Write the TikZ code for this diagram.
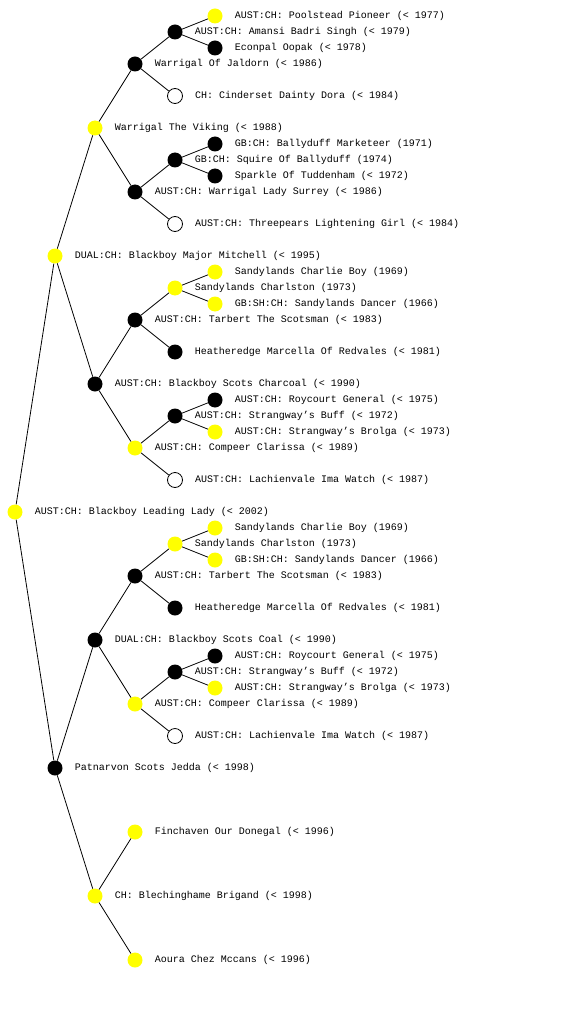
\documentclass[tikz,border=0pt]{standalone}
\usepackage{fontspec}
\setmonofont{Liberation Mono}
\usetikzlibrary{positioning}
\definecolor{champyellow}{RGB}{255,255,0}

\tikzset{
  dog/.style={circle, minimum size=15pt, inner sep=0pt},
  champ/.style={dog, fill=champyellow},
  plain/.style={dog, fill=black},
  unknown/.style={dog, draw=black, line width=0.8pt, fill=white},
  dogname/.style={font=\ttfamily\fontsize{10}{12}\selectfont, inner sep=0pt, right=12pt of #1},
  link/.style={line width=0.8pt}
}

\begin{document}
\begin{tikzpicture}[x=1pt, y=-1pt]
  \useasboundingbox (0,0) rectangle (560,1024);

  % generation 0 and 1
  \node[champ] (lady) at (15,512) {};
  \node[champ] (mitchell) at (55,256) {};
  \node[plain] (jedda) at (55,768) {};

  % generation 2
  \node[champ] (viking) at (95,128) {};
  \node[plain] (charcoal) at (95,384) {};
  \node[plain] (coal) at (95,640) {};
  \node[champ] (brigand) at (95,896) {};

  % generation 3
  \node[plain] (jaldorn) at (135,64) {};
  \node[plain] (surrey) at (135,192) {};
  \node[plain] (tarbertA) at (135,320) {};
  \node[champ] (compeerA) at (135,448) {};
  \node[plain] (tarbertB) at (135,576) {};
  \node[champ] (compeerB) at (135,704) {};
  \node[champ] (finchaven) at (135,832) {};
  \node[champ] (aoura) at (135,960) {};

  % generation 4
  \node[plain] (amansi) at (175,32) {};
  \node[unknown] (cinderset) at (175,96) {};
  \node[plain] (squire) at (175,160) {};
  \node[unknown] (threepears) at (175,224) {};
  \node[champ] (charlstonA) at (175,288) {};
  \node[plain] (heatheredgeA) at (175,352) {};
  \node[plain] (buffA) at (175,416) {};
  \node[unknown] (lachienvaleA) at (175,480) {};
  \node[champ] (charlstonB) at (175,544) {};
  \node[plain] (heatheredgeB) at (175,608) {};
  \node[plain] (buffB) at (175,672) {};
  \node[unknown] (lachienvaleB) at (175,736) {};

  % generation 5
  \node[champ] (poolstead) at (215,16) {};
  \node[plain] (econpal) at (215,48) {};
  \node[plain] (marketeer) at (215,144) {};
  \node[plain] (sparkle) at (215,176) {};
  \node[champ] (charlieA) at (215,272) {};
  \node[champ] (dancerA) at (215,304) {};
  \node[plain] (roycourtA) at (215,400) {};
  \node[champ] (brolgaA) at (215,432) {};
  \node[champ] (charlieB) at (215,528) {};
  \node[champ] (dancerB) at (215,560) {};
  \node[plain] (roycourtB) at (215,656) {};
  \node[champ] (brolgaB) at (215,688) {};

  % connectors
  \draw[link] (lady) -- (mitchell);
  \draw[link] (lady) -- (jedda);
  \draw[link] (mitchell) -- (viking);
  \draw[link] (mitchell) -- (charcoal);
  \draw[link] (jedda) -- (coal);
  \draw[link] (jedda) -- (brigand);
  \draw[link] (viking) -- (jaldorn);
  \draw[link] (viking) -- (surrey);
  \draw[link] (charcoal) -- (tarbertA);
  \draw[link] (charcoal) -- (compeerA);
  \draw[link] (coal) -- (tarbertB);
  \draw[link] (coal) -- (compeerB);
  \draw[link] (brigand) -- (finchaven);
  \draw[link] (brigand) -- (aoura);
  \draw[link] (jaldorn) -- (amansi);
  \draw[link] (jaldorn) -- (cinderset);
  \draw[link] (surrey) -- (squire);
  \draw[link] (surrey) -- (threepears);
  \draw[link] (tarbertA) -- (charlstonA);
  \draw[link] (tarbertA) -- (heatheredgeA);
  \draw[link] (compeerA) -- (buffA);
  \draw[link] (compeerA) -- (lachienvaleA);
  \draw[link] (tarbertB) -- (charlstonB);
  \draw[link] (tarbertB) -- (heatheredgeB);
  \draw[link] (compeerB) -- (buffB);
  \draw[link] (compeerB) -- (lachienvaleB);
  \draw[link] (amansi) -- (poolstead);
  \draw[link] (amansi) -- (econpal);
  \draw[link] (squire) -- (marketeer);
  \draw[link] (squire) -- (sparkle);
  \draw[link] (charlstonA) -- (charlieA);
  \draw[link] (charlstonA) -- (dancerA);
  \draw[link] (buffA) -- (roycourtA);
  \draw[link] (buffA) -- (brolgaA);
  \draw[link] (charlstonB) -- (charlieB);
  \draw[link] (charlstonB) -- (dancerB);
  \draw[link] (buffB) -- (roycourtB);
  \draw[link] (buffB) -- (brolgaB);

  % names
  \node[dogname=lady] (lady-t) {AUST:CH: Blackboy Leading Lady (< 2002)};
  \node[dogname=mitchell] (mitchell-t) {DUAL:CH: Blackboy Major Mitchell (< 1995)};
  \node[dogname=jedda] (jedda-t) {Patnarvon Scots Jedda (< 1998)};
  \node[dogname=viking] (viking-t) {Warrigal The Viking (< 1988)};
  \node[dogname=charcoal] (charcoal-t) {AUST:CH: Blackboy Scots Charcoal (< 1990)};
  \node[dogname=coal] (coal-t) {DUAL:CH: Blackboy Scots Coal (< 1990)};
  \node[dogname=brigand] (brigand-t) {CH: Blechinghame Brigand (< 1998)};
  \node[dogname=jaldorn] (jaldorn-t) {Warrigal Of Jaldorn (< 1986)};
  \node[dogname=surrey] (surrey-t) {AUST:CH: Warrigal Lady Surrey (< 1986)};
  \node[dogname=tarbertA] (tarbertA-t) {AUST:CH: Tarbert The Scotsman (< 1983)};
  \node[dogname=compeerA] (compeerA-t) {AUST:CH: Compeer Clarissa (< 1989)};
  \node[dogname=tarbertB] (tarbertB-t) {AUST:CH: Tarbert The Scotsman (< 1983)};
  \node[dogname=compeerB] (compeerB-t) {AUST:CH: Compeer Clarissa (< 1989)};
  \node[dogname=finchaven] (finchaven-t) {Finchaven Our Donegal (< 1996)};
  \node[dogname=aoura] (aoura-t) {Aoura Chez Mccans (< 1996)};
  \node[dogname=amansi] (amansi-t) {AUST:CH: Amansi Badri Singh (< 1979)};
  \node[dogname=cinderset] (cinderset-t) {CH: Cinderset Dainty Dora (< 1984)};
  \node[dogname=squire] (squire-t) {GB:CH: Squire Of Ballyduff (1974)};
  \node[dogname=threepears] (threepears-t) {AUST:CH: Threepears Lightening Girl (< 1984)};
  \node[dogname=charlstonA] (charlstonA-t) {Sandylands Charlston (1973)};
  \node[dogname=heatheredgeA] (heatheredgeA-t) {Heatheredge Marcella Of Redvales (< 1981)};
  \node[dogname=buffA] (buffA-t) {AUST:CH: Strangway’s Buff (< 1972)};
  \node[dogname=lachienvaleA] (lachienvaleA-t) {AUST:CH: Lachienvale Ima Watch (< 1987)};
  \node[dogname=charlstonB] (charlstonB-t) {Sandylands Charlston (1973)};
  \node[dogname=heatheredgeB] (heatheredgeB-t) {Heatheredge Marcella Of Redvales (< 1981)};
  \node[dogname=buffB] (buffB-t) {AUST:CH: Strangway’s Buff (< 1972)};
  \node[dogname=lachienvaleB] (lachienvaleB-t) {AUST:CH: Lachienvale Ima Watch (< 1987)};
  \node[dogname=poolstead] (poolstead-t) {AUST:CH: Poolstead Pioneer (< 1977)};
  \node[dogname=econpal] (econpal-t) {Econpal Oopak (< 1978)};
  \node[dogname=marketeer] (marketeer-t) {GB:CH: Ballyduff Marketeer (1971)};
  \node[dogname=sparkle] (sparkle-t) {Sparkle Of Tuddenham (< 1972)};
  \node[dogname=charlieA] (charlieA-t) {Sandylands Charlie Boy (1969)};
  \node[dogname=dancerA] (dancerA-t) {GB:SH:CH: Sandylands Dancer (1966)};
  \node[dogname=roycourtA] (roycourtA-t) {AUST:CH: Roycourt General (< 1975)};
  \node[dogname=brolgaA] (brolgaA-t) {AUST:CH: Strangway’s Brolga (< 1973)};
  \node[dogname=charlieB] (charlieB-t) {Sandylands Charlie Boy (1969)};
  \node[dogname=dancerB] (dancerB-t) {GB:SH:CH: Sandylands Dancer (1966)};
  \node[dogname=roycourtB] (roycourtB-t) {AUST:CH: Roycourt General (< 1975)};
  \node[dogname=brolgaB] (brolgaB-t) {AUST:CH: Strangway’s Brolga (< 1973)};
\end{tikzpicture}
\end{document}
